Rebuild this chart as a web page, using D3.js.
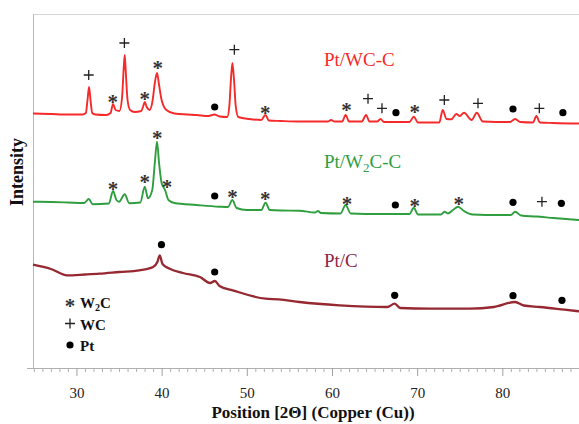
<!DOCTYPE html>
<html><head><meta charset="utf-8">
<script src="https://cdn.jsdelivr.net/npm/d3@7"></script>
<style>
html,body{margin:0;padding:0;background:#fff;}
svg{display:block;}
text{font-family:"Liberation Serif","Times New Roman",serif;}
</style></head>
<body>
<svg id="chart" width="579" height="424"></svg>
<script>
// ---------- DATA (2θ in degrees, intensity in arbitrary units) ----------
const majorTicks = [30, 40, 50, 60, 70, 80];
const xLabel = "Position [2Θ] (Copper (Cu))";
const yLabel = "Intensity";
const seriesNames = ["Pt/WC-C", "Pt/W\u2082C-C", "Pt/C"];

const ptWCC = [
 [24.9,254.5],[27,254],[29,253.5],[30.7,253.5],[31.1,255],[31.3,268],[31.48,281],[31.65,268],[31.85,255],
 [32.2,253.5],[33.5,253],[34.0,255],[34.3,264],[34.6,258],[35.05,257],[35.35,270],[35.55,300],[35.67,313],
 [35.8,295],[36.0,268],[36.3,258],[36.84,256],[37.6,257],[37.85,262],[38.02,266],[38.25,261],[38.6,258],
 [38.95,268],[39.2,285],[39.46,295],[39.7,283],[40.0,268],[40.56,258],[41.5,254.5],[43,253.5],[44.08,253],
 [45.5,252],[46.2,253.5],[46.8,251.5],[47.7,251],[47.95,262],[48.15,290],[48.31,305],[48.5,288],[48.7,262],
 [49.0,251],[50.3,249],[51.7,248],[52.18,253],[52.6,247.5],[54,247],[56,246.5],[59.5,246.5],[59.9,248],
 [60.3,246.5],[61.2,246.5],[61.6,253],[62.0,246.5],[63.5,246.5],[64.0,253],[64.4,246.5],[65.3,246.5],
 [65.7,249],[66.1,246],[69.1,246],[69.6,251.3],[70.1,245.5],[72.6,245.5],[73.0,258],[73.45,249],[74.0,248.7],
 [74.6,254],[75.0,252],[75.5,255.3],[76.4,248],[77.0,255.3],[77.7,246.5],[80.9,246],[81.5,249],[82.1,246],
 [83.6,245.5],[84.0,252],[84.4,245.5],[86,245],[89,244.5]
];
const ptW2CC = [
 [24.9,166.3],[27,166],[29,165.5],[30.9,165],[31.45,169],[31.9,163.7],[33.8,164.5],[34.3,177],[34.7,168],
 [35.0,166.3],[35.67,173.7],[36.2,164.7],[37.5,165.5],[38.02,181.3],[38.4,169.7],[38.9,178],[39.2,205],
 [39.46,226.3],[39.7,205],[40.0,185],[40.4,178],[40.8,168],[41.5,165],[44.1,163],[46.8,161.3],[47.8,161],
 [48.3,168],[48.8,160],[50.0,158],[51.7,158],[52.2,165.3],[52.7,158],[54,157.5],[56.2,157.3],[58.0,155.5],
 [58.36,157],[58.7,155],[61.0,154.5],[61.6,163],[62.2,154.5],[65.6,154],[69.1,154],[69.6,160.3],[70.1,153.5],
 [72.8,153.5],[73.2,156.3],[73.6,154.5],[74.2,158],[74.8,161.3],[75.5,157],[76.5,153.5],[79.7,153],
 [81.0,153],[81.5,156.3],[82.2,152.5],[84,151.5],[86,150],[89,148]
];
const ptC = [
 [24.9,103.3],[27,99],[28.9,92.7],[31,93.5],[32.7,94.3],[35,96],[37.4,97.7],[39.0,101],[39.5,106],[39.78,112.7],
 [40.1,104],[40.95,99.3],[42.5,95],[44.5,91],[45.7,85],[46.25,87],[46.8,82],[48.35,77.7],[52.2,69.3],
 [53.75,68.7],[56.2,66],[60.9,62.7],[66.5,61],[67.36,64.3],[68,60],[71.5,59.3],[76.2,59.3],[79,61],
 [81.5,66],[82.5,62.5],[84.4,61],[87.3,58.3],[89,56.7]
];

// phase markers: [2θ, intensity position, symbol]
const markersWCC = [
 [31.44,293,"+"],[34.26,270,"*"],[35.63,325,"+"],[38.02,272.3,"*"],[39.54,304,"*"],[46.23,261,"•"],
 [48.54,318.3,"+"],[52.18,259,"*"],[61.69,261.3,"*"],[64.23,269.3,"+"],[65.87,259.7,"+"],[67.51,255.3,"•"],
 [69.71,259.7,"*"],[73.19,268,"+"],[77.14,264.7,"+"],[81.25,259,"•"],[84.34,259.7,"+"],[87.11,255.3,"•"]
];
const markersW2CC = [
 [34.3,183,"*"],[38.02,189.3,"*"],[39.5,234,"*"],[40.63,184.3,"*"],[46.23,172,"•"],[48.31,174.7,"*"],
 [52.18,173,"*"],[61.76,168,"*"],[67.44,163,"•"],[69.71,165.7,"*"],[74.87,168,"*"],[81.25,165.7,"•"],
 [84.65,166.3,"+"],[86.93,164.7,"•"]
];
const markersPtC = [
 [39.98,123.3,"•"],[46.23,96,"•"],[67.36,72.7,"•"],[81.25,72.3,"•"],[87.0,67.7,"•"]
];
const legendSymbols = ["*", "+", "•"];
const legendLabels = ["W2C", "WC", "Pt"];

// ---------- DRAWING ----------
const svg = d3.select("#chart");
const x = d3.scaleLinear().domain([24.9, 89]).range([33, 579]);
const y = d3.scaleLinear().domain([0, 354]).range([368, 14]);

const colors = ["#f52a2a", "#2f9e3f", "#952830"];
const labelColors = ["#f52a2a", "#2f9e3f", "#8c2447"];

// frame
svg.append("line").attr("x1",33).attr("x2",579).attr("y1",14.5).attr("y2",14.5)
  .attr("stroke","#d4d4d4").attr("stroke-width",1);
svg.append("line").attr("x1",33.5).attr("x2",33.5).attr("y1",14).attr("y2",368)
  .attr("stroke","#b8b8b8").attr("stroke-width",1);

// x axis
const minor = d3.range(25, 90, 1).filter(v => !majorTicks.includes(v));
const gMinor = svg.append("g").attr("transform","translate(0,368)")
  .call(d3.axisBottom(x).tickValues(minor).tickSize(4).tickFormat(""));
gMinor.select(".domain").remove();
gMinor.selectAll("line").attr("stroke","#b0b0b0");
const gAxis = svg.append("g").attr("transform","translate(0,368)")
  .call(d3.axisBottom(x).tickValues(majorTicks).tickSize(8).tickSizeOuter(0).tickPadding(11));
gAxis.select(".domain").attr("stroke","#b0b0b0").attr("d","M27,0.5H579");
gAxis.selectAll("line").attr("stroke","#a0a0a0");
gAxis.selectAll("text").attr("font-size","15px").attr("fill","#222")
  .attr("font-family","'Liberation Serif','Times New Roman',serif");

// axis titles
svg.append("text").attr("x",313).attr("y",418).attr("text-anchor","middle")
  .attr("font-size","17px").attr("font-weight","bold").attr("fill","#111").text(xLabel);
svg.append("text").attr("transform","translate(23,172) rotate(-90)").attr("text-anchor","middle")
  .attr("font-size","18px").attr("font-weight","bold").attr("fill","#111").text(yLabel);

// curves
const line = d3.line().x(d => x(d[0])).y(d => y(d[1])).curve(d3.curveMonotoneX);
[ptWCC, ptW2CC, ptC].forEach((s, i) => {
  svg.append("path").datum(s).attr("d", line).attr("fill","none")
    .attr("stroke", colors[i]).attr("stroke-width", i === 2 ? 2.3 : 1.9)
    .attr("stroke-linejoin","round");
});

// markers
function drawMarker(g, sym, cx, cy) {
  if (sym === "•") {
    g.append("circle").attr("cx",cx).attr("cy",cy).attr("r",3.6).attr("fill","#000");
  } else if (sym === "+") {
    g.append("path").attr("d", `M${cx-5},${cy}H${cx+5}M${cx},${cy-5}V${cy+5}`)
      .attr("stroke","#222").attr("stroke-width",1.3).attr("fill","none");
  } else {
    g.append("text").attr("x",cx).attr("y",cy+10.5).attr("text-anchor","middle")
      .attr("font-size","21px").attr("font-weight","bold").attr("fill","#333").text("*");
  }
}
const gm = svg.append("g");
[markersWCC, markersW2CC, markersPtC].forEach(ms => {
  ms.forEach(m => drawMarker(gm, m[2], x(m[0]), y(m[1])));
});

// series labels
const lbl = [[324,66],[324,168],[324,267]];
seriesNames.forEach((n, i) => {
  const t = svg.append("text").attr("x",lbl[i][0]).attr("y",lbl[i][1])
    .attr("font-size","19px").attr("fill",labelColors[i]);
  if (i === 1) {
    t.append("tspan").text("Pt/W");
    t.append("tspan").attr("font-size","13px").attr("dy",4).text("2");
    t.append("tspan").attr("dy",-4).text("C-C");
  } else t.text(n);
});

// legend
const lg = svg.append("g");
legendSymbols.forEach((s, i) => {
  const cy = 302 + i * 21.5;
  drawMarker(lg, s, 70, cy);
  const t = lg.append("text").attr("x",80).attr("y",cy+6).attr("font-size","15px")
    .attr("font-weight","bold").attr("fill","#111");
  if (i === 0) {
    t.append("tspan").text("W");
    t.append("tspan").attr("font-size","10px").attr("dy",3).text("2");
    t.append("tspan").attr("dy",-3).text("C");
  } else t.text(legendLabels[i]);
});
</script>
</body></html>
